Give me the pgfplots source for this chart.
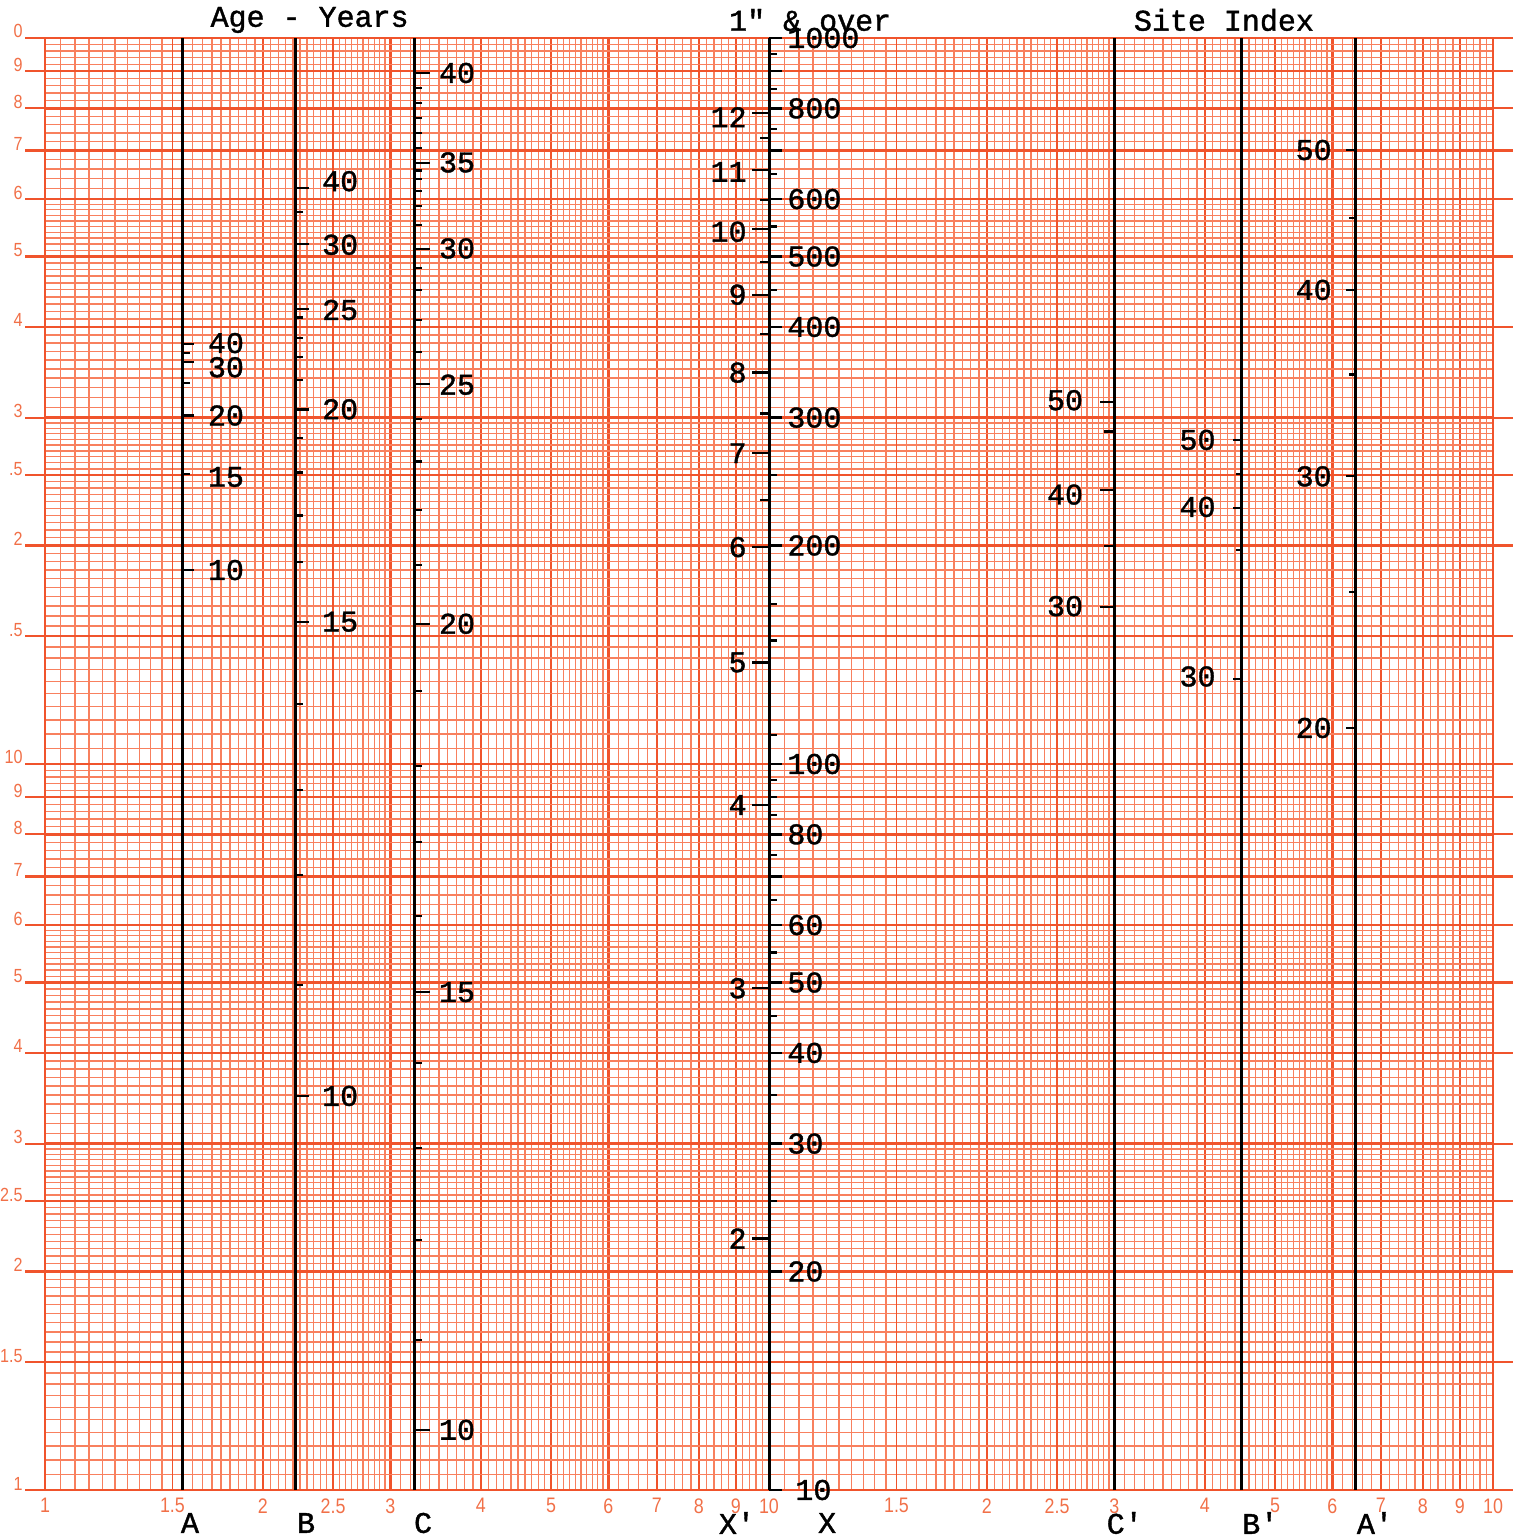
\documentclass[border=0pt]{standalone}
\usepackage{fontspec}
\setmainfont{Liberation Sans}
\newfontfamily\tw[FakeBold=1.3]{Liberation Mono}
\newfontfamily\tk[FakeStretch=0.85]{Liberation Sans}
\usepackage{pgfplots}
\pgfplotsset{compat=1.18}
\definecolor{gheavy}{RGB}{240,84,44}
\definecolor{gfine}{RGB}{248,128,94}
\definecolor{glab}{RGB}{241,112,72}
\pgfdeclareplotmark{tr}{\pgfpathmoveto{\pgfpointorigin}\pgfpathlineto{\pgfqpoint{\pgfplotmarksize}{0pt}}\pgfusepathqstroke}
\pgfdeclareplotmark{tl}{\pgfpathmoveto{\pgfpointorigin}\pgfpathlineto{\pgfqpoint{-\pgfplotmarksize}{0pt}}\pgfusepathqstroke}
\newcommand\twf{\tw\fontsize{15}{15}\selectfont}
\pgfplotsset{
  tickmaj/.style={only marks, mark=#1, mark size=6.5pt, mark options={black, line width=1.2pt}},
  tickmin/.style={only marks, mark=#1, mark size=3.8pt, mark options={black, line width=1.1pt}},
  labR/.style={only marks, mark=none, nodes near coords, point meta=explicit symbolic,
    nodes near coords style={font=\twf, text=black, anchor=west, inner sep=0pt, xshift=#1}},
  labL/.style={only marks, mark=none, nodes near coords, point meta=explicit symbolic,
    nodes near coords style={font=\twf, text=black, anchor=east, inner sep=0pt, xshift=-#1}},
  scaleline/.style={black, line width=1.5pt, mark=none},
}
\begin{document}
\begin{tikzpicture}
\begin{axis}[
  scale only axis, width=724pt, height=726pt,
  xmode=log, ymode=log, xmin=1, xmax=100, ymin=1, ymax=100,
  axis line style={gheavy, line width=1.1pt},
  xtick={1,2,3,4,5,6,7,8,9,10,20,30,40,50,60,70,80,90,100},
  xticklabels={1,2,3,4,5,6,7,8,9,10,2,3,4,5,6,7,8,9,10},
  ytick={1,2,3,4,5,6,7,8,9,10,20,30,40,50,60,70,80,90,100},
  yticklabels={1,2,3,4,5,6,7,8,9,10,2,3,4,5,6,7,8,9,0},
  extra x ticks={1.5,2.5,15,25},
  extra x tick labels={1.5,2.5,1.5,2.5},
  extra y ticks={1.5,2.5,15,25},
  extra y tick labels={1.5,2.5,.5,.5},
  extra tick style={grid=major, major grid style={draw=gheavy, line width=0.85pt}},
  minor xtick={1.05,1.1,...,1.96,2.05,2.1,...,2.96,3.1,3.2,...,5.96,6.2,6.4,...,9.9,10.5,11,...,19.6,20.5,21,...,29.6,31,32,...,59.6,62,64,...,99},
  minor ytick={1.05,1.1,...,1.96,2.05,2.1,...,2.96,3.1,3.2,...,5.96,6.2,6.4,...,9.9,10.5,11,...,19.6,20.5,21,...,29.6,31,32,...,59.6,62,64,...,99},
  grid=both,
  every axis grid/.style={},
  every minor grid/.style={draw=gfine, line width=0.7pt},
  every major grid/.style={draw=gheavy, line width=1.2pt},
  tick align=outside,
  major tick length=10pt, minor tick length=0pt,
  xtick style={draw=none},
  ytick style={draw=gheavy, line width=1.1pt},
  xticklabel style={font=\tk\fontsize{10.5}{10.5}\selectfont, text=glab, inner sep=1pt, yshift=7pt},
  yticklabel style={font=\tk\fontsize{9.5}{9.5}\selectfont, text=glab, anchor=base east, inner sep=1pt},
  clip=false,
]
\coordinate (BL) at (rel axis cs:0,0);
\coordinate (TR) at (rel axis cs:1,1);

% ---- vertical scale lines
\addplot[scaleline] coordinates {(1.549,1) (1.549,100)};
\addplot[scaleline] coordinates {(2.22,1) (2.22,100)};
\addplot[scaleline] coordinates {(3.24,1) (3.24,100)};
\addplot[scaleline] coordinates {(10,1) (10,100)};
\addplot[scaleline] coordinates {(30,1) (30,100)};
\addplot[scaleline] coordinates {(45,1) (45,100)};
\addplot[scaleline] coordinates {(64.5,1) (64.5,100)};

% ---- scale A
\addplot[tickmaj=tr, mark size=5.5pt] coordinates {(1.549,37.9) (1.549,35.8) (1.549,30.2) (1.549,18.5)};
\addplot[tickmin=tr] coordinates {(1.549,36.8) (1.549,33.5) (1.549,25.1)};
\addplot[labR=12.5pt] coordinates {(1.549,38.0)[40] (1.549,35.2)[30] (1.549,30.2)[20] (1.549,24.85)[15] (1.549,18.5)[10]};

% ---- scale B
\addplot[tickmaj=tr] coordinates {(2.22,62.1) (2.22,52.0) (2.22,42.3) (2.22,30.8) (2.22,15.7) (2.22,3.49)};
\addplot[tickmin=tr] coordinates {(2.22,57.6) (2.22,41.2) (2.22,38.6) (2.22,36.4) (2.22,33.8) (2.22,28.1) (2.22,25.2) (2.22,22.0) (2.22,19.0) (2.22,12.1) (2.22,9.21) (2.22,7.03) (2.22,4.96)};
\addplot[labR=13pt] coordinates {(2.22,63.5)[40] (2.22,51.9)[30] (2.22,42.2)[25] (2.22,30.8)[20] (2.22,15.7)[15] (2.22,3.49)[10]};

% ---- scale C
\addplot[tickmaj=tr, mark size=7.5pt] coordinates {(3.24,89.5) (3.24,67.3) (3.24,51.2) (3.24,33.4) (3.24,15.6) (3.24,4.85) (3.24,1.21)};
\addplot[tickmin=tr] coordinates {(3.24,85.3) (3.24,81.4) (3.24,77.6) (3.24,74.0) (3.24,70.5) (3.24,65.7) (3.24,63.9) (3.24,61.6) (3.24,58.7) (3.24,55.3) (3.24,48.2) (3.24,45.0) (3.24,40.9) (3.24,36.9) (3.24,29.9) (3.24,26.1) (3.24,22.4) (3.24,18.8) (3.24,12.6) (3.24,9.94) (3.24,7.81) (3.24,6.17) (3.24,3.87) (3.24,2.96) (3.24,2.21) (3.24,1.61)};
\addplot[labR=12pt] coordinates {(3.24,89.5)[40] (3.24,67.4)[35] (3.24,51.3)[30] (3.24,33.3)[25] (3.24,15.6)[20] (3.24,4.85)[15] (3.24,1.21)[10]};

% ---- scale X (right: volume, left: diameter)
\addplot[tickmaj=tr] coordinates {(10,100) (10,90) (10,80) (10,70) (10,60) (10,50) (10,40) (10,30) (10,20) (10,10) (10,8) (10,7) (10,6) (10,5) (10,4) (10,3) (10,2) (10,1)};
\addplot[tickmin=tr] coordinates {(10,95) (10,85) (10,75) (10,65) (10,55) (10,45) (10,25) (10,16.6) (10,14.8) (10,10.95) (10,9.5) (10,9) (10,8.5) (10,7.5) (10,6.5) (10,5.5) (10,4.5) (10,3.5) (10,2.5)};
\addplot[tickmaj=tl, mark size=8.5pt] coordinates {(10,78.8) (10,65.8) (10,54.6) (10,44.3) (10,34.6) (10,26.8) (10,19.9) (10,13.8) (10,8.78) (10,4.91) (10,2.22)};
\addplot[tickmin=tl, mark size=4.5pt] coordinates {(10,72.8) (10,59.8) (10,49.1) (10,39.1) (10,30.4) (10,23.1)};
\addplot[labR=9pt] coordinates {(10,100)[1000] (10,80)[800] (10,60)[600] (10,50)[500] (10,40)[400] (10,30)[300] (10,20)[200] (10,10)[100] (10,8)[80] (10,6)[60] (10,5)[50] (10,4)[40] (10,3)[30] (10,2)[20]};
\addplot[labR=13pt] coordinates {(10,1)[10]};
\addplot[labL=11pt] coordinates {(10,77.8)[12] (10,65.4)[11] (10,54.1)[10] (10,44.3)[9] (10,34.6)[8] (10,26.8)[7] (10,19.9)[6] (10,13.8)[5] (10,8.78)[4] (10,4.91)[3] (10,2.22)[2]};

% ---- scale C'
\addplot[tickmaj=tl, mark size=7pt] coordinates {(30,31.5) (30,23.85) (30,16.45)};
\addplot[tickmin=tl, mark size=5pt] coordinates {(30,28.7) (30,19.97)};
\addplot[labL=15.5pt] coordinates {(30,31.7)[50] (30,23.5)[40] (30,16.5)[30]};

% ---- scale B'
\addplot[tickmaj=tl, mark size=4.5pt] coordinates {(45,27.95) (45,22.52) (45,13.1)};
\addplot[tickmin=tl, mark size=3pt] coordinates {(45,25.08) (45,19.71)};
\addplot[labL=13pt] coordinates {(45,27.95)[50] (45,22.6)[40] (45,13.2)[30]};

% ---- scale A'
\addplot[tickmaj=tl, mark size=4.5pt] coordinates {(64.5,70.1) (64.5,44.98) (64.5,24.93) (64.5,11.21)};
\addplot[tickmin=tl, mark size=3pt] coordinates {(64.5,56.5) (64.5,34.4) (64.5,17.26)};
\addplot[labL=11.5pt] coordinates {(64.5,70.1)[50] (64.5,44.98)[40] (64.5,24.9)[30] (64.5,11.21)[20]};

% ---- titles and scale letters
\node[font=\twf, anchor=center, yshift=9pt] at (axis cs:2.32,100) {Age - Years};
\node[font=\twf, anchor=center, yshift=9pt] at (axis cs:11.4,100) {1" \& over};
\node[font=\twf, anchor=center, yshift=9pt] at (axis cs:42.5,100) {Site Index};
\node[font=\twf, anchor=center, yshift=-16.5pt] at (axis cs:1.586,1) {A};
\node[font=\twf, anchor=center, yshift=-16.5pt] at (axis cs:2.294,1) {B};
\node[font=\twf, anchor=center, yshift=-16.5pt] at (axis cs:3.328,1) {C};
\node[font=\twf, anchor=center, yshift=-16.5pt] at (axis cs:9.03,1) {X'};
\node[font=\twf, anchor=center, yshift=-16.5pt] at (axis cs:12.03,1) {X};
\node[font=\twf, anchor=center, yshift=-16.5pt] at (axis cs:31.0,1) {C'};
\node[font=\twf, anchor=center, yshift=-16.5pt] at (axis cs:47.7,1) {B'};
\node[font=\twf, anchor=center, yshift=-16.5pt] at (axis cs:68.7,1) {A'};
\end{axis}
\pgfresetboundingbox
\path[use as bounding box] ([xshift=-22.5pt,yshift=-23.5pt]BL) rectangle ([xshift=16.5pt,yshift=19pt]TR);
\end{tikzpicture}
\end{document}
